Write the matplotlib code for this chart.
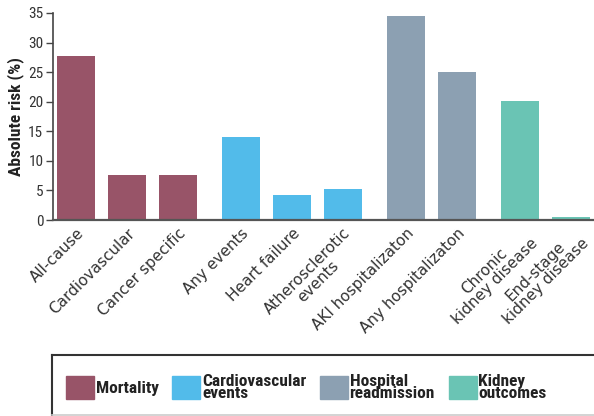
import matplotlib
matplotlib.use("Agg")
import matplotlib.pyplot as plt
from matplotlib import font_manager
from matplotlib.lines import Line2D
import matplotlib.patches as mpatches

# ---- data ----
categories = ["All-cause", "Cardiovascular", "Cancer specific",
              "Any events", "Heart failure", "Atherosclerotic\nevents",
              "AKI hospitalizaton", "Any hospitalizaton",
              "Chronic\nkidney disease", "End-stage\nkidney disease"]
values = [27.7, 7.6, 7.6, 14.0, 4.2, 5.2, 34.5, 25.0, 20.1, 0.5]
groups = [0, 0, 0, 1, 1, 1, 2, 2, 3, 3]
group_names = ["Mortality", "Cardiovascular\nevents", "Hospital\nreadmission", "Kidney\noutcomes"]
group_colors = ["#985468", "#52BBEA", "#8CA0B2", "#6AC4B4"]
yticks = [0, 5, 10, 15, 20, 25, 30, 35]

# ---- fonts ----
names = {f.name for f in font_manager.fontManager.ttflist}
narrow = None
for cand in ["Liberation Sans Narrow", "Roboto Condensed", "Open Sans Condensed", "DejaVu Sans Condensed"]:
    if cand in names:
        narrow = cand
        break
narrow_kw = {"family": narrow} if narrow else {"family": "DejaVu Sans", "stretch": "condensed"}

fig = plt.figure(figsize=(5.94, 4.16), dpi=100)
ax = fig.add_axes([53/594, 196/416, 541/594, 207/416])

gap = 0.235
pos = [i + gap * g for i, g in enumerate(groups)]
bars = ax.bar(pos, values, width=0.745, color=[group_colors[g] for g in groups], zorder=2)

ax.set_ylim(0, 35)
ax.set_xlim(-0.45, 10.157)
ax.set_yticks(yticks)
ax.set_yticklabels([str(t) for t in yticks], fontsize=11, color="#333333", **narrow_kw)
ax.tick_params(axis="y", length=5, width=1, color="#444444", pad=2)
ax.tick_params(axis="x", length=0, pad=4)
ax.set_xticks(pos)
ax.set_xticklabels(categories, rotation=45, ha="right", rotation_mode="anchor",
                   fontsize=11, color="#333333", family="DejaVu Sans", multialignment="center",
                   linespacing=0.95)
for s in ["top", "right"]:
    ax.spines[s].set_visible(False)
ax.spines["left"].set_color("#444444")
ax.spines["left"].set_linewidth(1.2)
ax.spines["bottom"].set_color("#555555")
ax.spines["bottom"].set_linewidth(1.6)
ax.spines["bottom"].set_zorder(3)
ax.set_ylabel("Absolute risk (%)", fontsize=12.5, color="#222222", weight="bold", labelpad=3, **narrow_kw)

# legend box lines
fig.add_artist(Line2D([52/594, 1.0], [1 - 354.5/416, 1 - 354.5/416], transform=fig.transFigure, color="#333333", lw=1.5))
fig.add_artist(Line2D([52/594, 52/594], [1 - 354.5/416, 1 - 415/416], transform=fig.transFigure, color="#333333", lw=1.5))
fig.add_artist(Line2D([52/594, 1.0], [1 - 415/416, 1 - 415/416], transform=fig.transFigure, color="#cccccc", lw=1.2))

handles = [mpatches.Patch(color=c, label=n) for c, n in zip(group_colors, group_names)]
leg = fig.legend(handles=handles, ncol=4, loc="center left",
                 bbox_to_anchor=(66/594, 1 - 387.5/416), frameon=False,
                 handlelength=1.6, handleheight=1.65, handletextpad=0.1, columnspacing=0.8,
                 prop=dict(size=12.5, weight="bold", **narrow_kw), borderaxespad=0, borderpad=0)
for t in leg.get_texts():
    t.set_linespacing(0.78)
    t.set_color("#222222")

fig.savefig("out.png", dpi=100)
